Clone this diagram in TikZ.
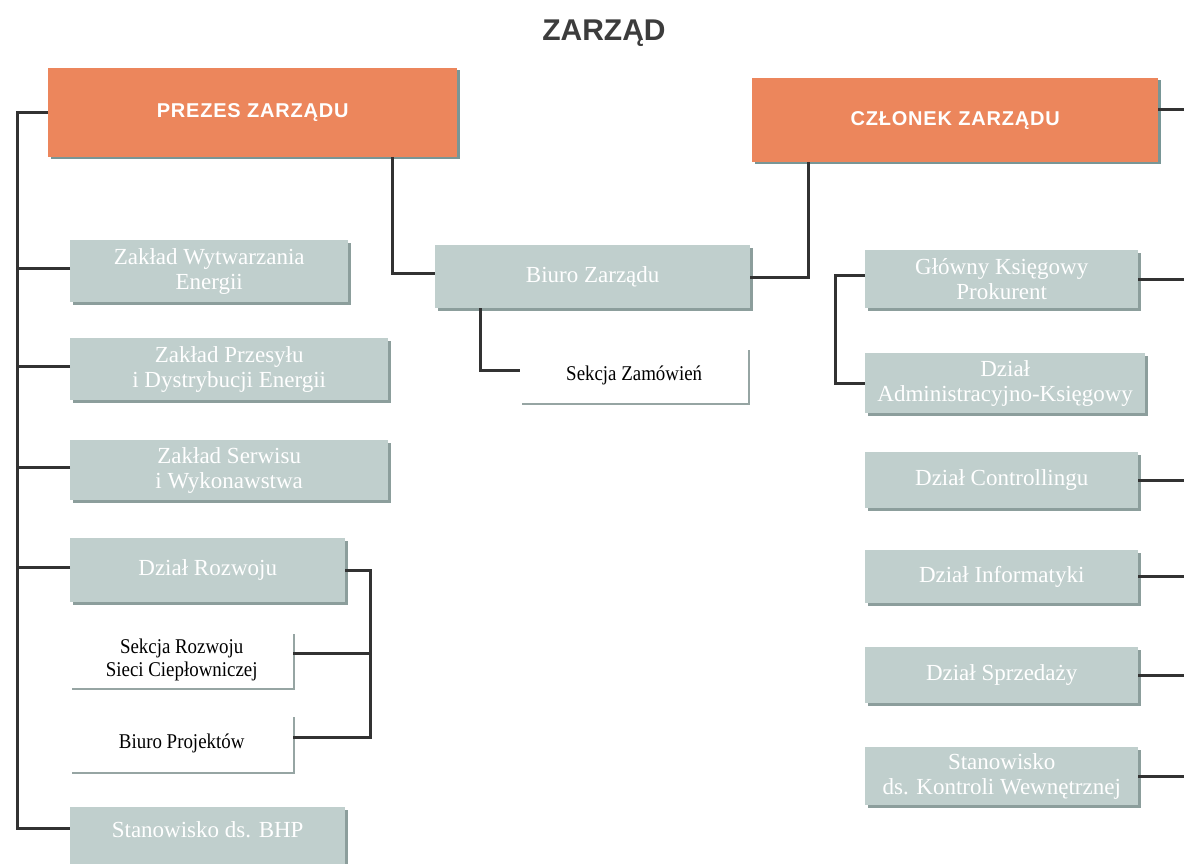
\documentclass[tikz,border=0pt]{standalone}
\usepackage{fontspec}
\setmainfont{Liberation Serif}
\newfontfamily\hdfont[LetterSpace=4]{Liberation Sans}
\newfontfamily\titlefont{Liberation Sans}
\newfontfamily\narfont[FakeStretch=0.9]{Liberation Serif}
\usetikzlibrary{calc}
\definecolor{orangebox}{RGB}{236,134,92}
\definecolor{orangeshadow}{RGB}{120,150,150}
\definecolor{graybox}{RGB}{192,207,205}
\definecolor{grayshadow}{RGB}{140,158,156}
\definecolor{whiteshadow}{RGB}{150,165,163}
\definecolor{linecol}{RGB}{50,50,50}
\definecolor{titlecol}{RGB}{60,60,60}
\begin{document}
\begin{tikzpicture}[x=1pt,y=-1pt,
  topbox/.style={anchor=north west, inner sep=0pt, fill=orangebox,
    preaction={fill=orangeshadow, transform canvas={xshift=3pt,yshift=-2pt}},
    text=white, font=\hdfont\bfseries\fontsize{20}{22}\selectfont, align=center},
  graybx/.style={anchor=north west, inner sep=0pt, fill=graybox,
    preaction={fill=grayshadow, transform canvas={xshift=3pt,yshift=-3pt}},
    text=white, font=\fontsize{23}{25}\selectfont, align=center},
  whitebx/.style={anchor=north west, inner sep=0pt, fill=white,
    preaction={fill=whiteshadow, transform canvas={xshift=2pt,yshift=-2pt}},
    text=black, font=\narfont\fontsize{21}{23}\selectfont, align=center},
  conn/.style={draw=linecol, line width=3pt},
]
\useasboundingbox (0,0) rectangle (1184,864);
\clip (0,0) rectangle (1184,864);

\node[font=\titlefont\bfseries\fontsize{30}{32}\selectfont, text=titlecol] (title) at (604,33) {ZARZĄD};

% top boxes
\node[topbox, minimum width=409pt, minimum height=89pt] (prezes) at (48,68) {\raisebox{-3pt}{PREZES ZARZĄDU}};
\node[topbox, minimum width=406pt, minimum height=84pt] (czlonek) at (752,78) {CZŁONEK ZARZĄDU};

% left column
\node[graybx, minimum width=278pt, minimum height=62pt] (zwe) at (70,240) {Zakład Wytwarzania\\Energii};
\node[graybx, minimum width=318pt, minimum height=62pt] (zpd) at (70,338) {Zakład Przesyłu\\i Dystrybucji Energii};
\node[graybx, minimum width=318pt, minimum height=60pt] (zsw) at (70,440) {Zakład Serwisu\\i Wykonawstwa};
\node[graybx, minimum width=275pt, minimum height=64pt] (dr) at (70,538) {Dział Rozwoju};
\node[whitebx, minimum width=223pt, minimum height=56pt] (sr) at (70,632) {Sekcja Rozwoju\\Sieci Ciepłowniczej};
\node[whitebx, minimum width=223pt, minimum height=57pt] (bp) at (70,715) {Biuro Projektów};
\node[graybx, minimum width=275pt, minimum height=70pt, text depth=26pt] (bhp) at (70,807) {Stanowisko ds. BHP};

% middle
\node[graybx, minimum width=315pt, minimum height=63pt] (biuro) at (435,245) {Biuro Zarządu};
\node[whitebx, minimum width=228pt, minimum height=55pt] (sz) at (520,348) {Sekcja Zamówień};

% right column
\node[graybx, minimum width=273pt, minimum height=58pt] (gk) at (865,250) {Główny Księgowy\\Prokurent};
\node[graybx, minimum width=280pt, minimum height=60pt] (ad) at (865,353) {Dział\\Administracyjno-Księgowy};
\node[graybx, minimum width=273pt, minimum height=56pt] (dc) at (865,452) {Dział Controllingu};
\node[graybx, minimum width=273pt, minimum height=53pt] (di) at (865,550) {Dział Informatyki};
\node[graybx, minimum width=273pt, minimum height=56pt] (ds) at (865,647) {Dział Sprzedaży};
\node[graybx, minimum width=273pt, minimum height=58pt] (sk) at (865,747) {Stanowisko\\ds. Kontroli Wewnętrznej};

% helper coordinates
\coordinate (spine) at ($(prezes.west)+(-31,0)$);
\coordinate (redge) at (1184,0);
\coordinate (czb) at ($(czlonek.south west)+(56,0)$);
\coordinate (prb) at ($(prezes.south east)+(-65,0)$);
\coordinate (drx) at ($(dr.east)+(25,0)$);
\coordinate (bzb) at ($(biuro.south west)+(45,0)$);

% left spine
\draw[conn] (prezes.west) -- (spine) |- ($(bhp.north west)+(0,21)$);
\foreach \n in {zwe,zpd,zsw,dr}{
  \draw[conn] ($(\n.west)+(0,-3)$) -- ($(\n.west -| spine)+(0,-3)$);
}
% Dział Rozwoju subtree
\draw[conn] (dr.east) -- (drx) |- ($(bp.east)+(0,-6)$);
\draw[conn] ($(sr.east)+(0,-7)$) -- ($(sr.east -| drx)+(0,-7)$);

% PREZES to Biuro Zarządu
\draw[conn] (prb) |- ($(biuro.west)+(0,-3)$);
% Biuro Zarządu to CZŁONEK
\draw[conn] ($(biuro.east)+(0,1)$) -| (czb);
% Biuro Zarządu to Sekcja Zamówień
\draw[conn] (bzb) |- ($(sz.west)+(0,-5)$);

% CZŁONEK right edge
\draw[conn] ($(czlonek.east)+(0,-11)$) -- ($(czlonek.east -| redge)+(0,-11)$);
% Główny Księgowy / Administracyjno
\draw[conn] ($(gk.west)+(0,-4)$) -- ++(-30,0) |- (ad.west);
\foreach \n in {gk,dc,di,ds,sk}{
  \draw[conn] (\n.east) -- (\n.east -| redge);
}
\end{tikzpicture}
\end{document}
